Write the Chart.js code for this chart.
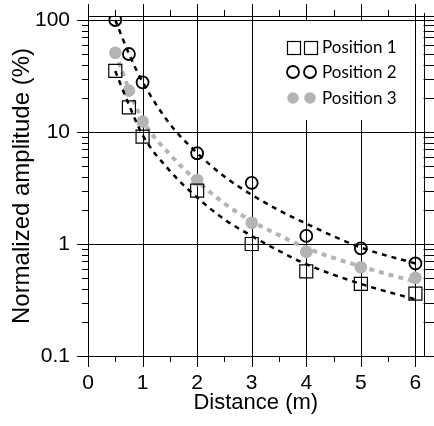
<!DOCTYPE html>
<html>
<head>
<meta charset="utf-8">
<script src="https://cdn.jsdelivr.net/npm/chart.js@4/dist/chart.umd.min.js"></script>
<style>
html,body{margin:0;padding:0;background:#fff;}
#wrap{width:434px;height:426px;position:relative;}
</style>
</head>
<body>
<div id="wrap"><canvas id="c"></canvas></div>
<script>
// ---- data ----
const distances = [0.5, 0.75, 1, 2, 3, 4, 5, 6];
const position1 = [35.2, 16.6, 9.1, 3.0, 1.0, 0.57, 0.44, 0.36];
const position2 = [100, 49.7, 27.8, 6.46, 3.52, 1.18, 0.915, 0.67];
const position3 = [51, 23.4, 12.4, 3.73, 1.55, 0.85, 0.62, 0.50];

const fitX = [0.5, 0.75, 1, 1.5, 2, 2.5, 3, 3.5, 4, 5, 6];
const fit1 = [35, 17.5, 9.4, 4.5, 2.6, 1.66, 1.18, 0.87, 0.66, 0.44, 0.32];
const fit2 = [100, 50, 28, 11.8, 6.5, 4.0, 2.75, 2.0, 1.52, 0.93, 0.67];
const fit3 = [51, 24, 12.8, 6.3, 3.65, 2.3, 1.6, 1.2, 0.92, 0.63, 0.46];

const seriesNames = ['Position 1', 'Position 2', 'Position 3'];
const xTicks = [0, 1, 2, 3, 4, 5, 6];
const xMinorTicks = [0.5, 1.5, 2.5, 3.5, 4.5, 5.5];
const yTicks = [0.1, 1, 10, 100];
const yTickLabels = ['0.1', '1', '10', '100'];
const yMinorTicks = [0.2,0.3,0.4,0.5,0.6,0.7,0.8,0.9,2,3,4,5,6,7,8,9,20,30,40,50,60,70,80,90];

const pts = (xs, ys) => xs.map((x, i) => ({x: x, y: ys[i]}));
const GRAY = '#b4b4b4';

const framePlugin = {
  id: 'frame',
  beforeDatasetsDraw(chart) {
    const {ctx, chartArea: ca, scales} = chart;
    const x = scales.x, y = scales.y;
    const W = chart.width;
    const r = v => Math.round(v) + 0.5;
    ctx.save();
    ctx.strokeStyle = '#000';
    ctx.lineWidth = 1;
    ctx.beginPath();
    xTicks.forEach(v => {
      const px = r(x.getPixelForValue(v));
      ctx.moveTo(px, ca.top - 12); ctx.lineTo(px, ca.bottom + 11);
    });
    const rx = r(ca.right);
    ctx.moveTo(rx, ca.top - 3); ctx.lineTo(rx, ca.bottom);
    const ty = r(ca.top);
    ctx.moveTo(ca.left, ty); ctx.lineTo(W, ty);
    yTicks.forEach(v => {
      const py = r(y.getPixelForValue(v));
      ctx.moveTo(ca.left - 11, py); ctx.lineTo(W, py);
    });
    xMinorTicks.forEach(v => {
      const px = r(x.getPixelForValue(v));
      ctx.moveTo(px, ca.bottom); ctx.lineTo(px, ca.bottom + 6);
      ctx.moveTo(px, ca.top); ctx.lineTo(px, ca.top - 6);
    });
    yMinorTicks.forEach(v => {
      const py = r(y.getPixelForValue(v));
      ctx.moveTo(ca.left - 6, py); ctx.lineTo(ca.left, py);
      ctx.moveTo(ca.right, py); ctx.lineTo(W, py);
    });
    ctx.stroke();

    // legend
    ctx.fillStyle = '#fff';
    ctx.fillRect(262, 21, 149, 99);
    const rows = [47, 72, 98];
    const mx = [293, 310];
    ctx.lineWidth = 1.2;
    ctx.strokeStyle = '#000';
    mx.forEach(cx => { ctx.strokeRect(Math.round(cx - 6.5) + 0.5, Math.round(rows[0] - 6.5) + 0.5, 13, 13); });
    ctx.lineWidth = 1.8;
    mx.forEach(cx => { ctx.beginPath(); ctx.arc(cx, rows[1], 6, 0, Math.PI * 2); ctx.stroke(); });
    ctx.fillStyle = GRAY;
    mx.forEach(cx => { ctx.beginPath(); ctx.arc(cx, rows[2], 5.8, 0, Math.PI * 2); ctx.fill(); });
    ctx.fillStyle = '#000';
    ctx.font = '17px Lato';
    ctx.textBaseline = 'middle';
    ctx.textAlign = 'left';
    seriesNames.forEach((t, i) => ctx.fillText(t, 322, rows[i] + 1));
    ctx.restore();
  }
};

const dashLine = (data, color, width, dash) => ({
  type: 'line', data: data, showLine: true, pointRadius: 0, pointHoverRadius: 0,
  borderColor: color, borderWidth: width, borderDash: dash, fill: false,
  cubicInterpolationMode: 'monotone'
});

new Chart(document.getElementById('c'), {
  type: 'scatter',
  data: {
    datasets: [
      {label: seriesNames[0], data: pts(distances, position1), pointStyle: 'rect', pointRadius: 9.2,
       borderColor: '#000', borderWidth: 1.2, backgroundColor: 'rgba(0,0,0,0)'},
      {label: seriesNames[1], data: pts(distances, position2), pointStyle: 'circle', pointRadius: 6,
       borderColor: '#000', borderWidth: 1.8, backgroundColor: 'rgba(0,0,0,0)'},
      dashLine(pts(fitX, fit1), '#000', 2.5, [5, 5]),
      dashLine(pts(fitX, fit2), '#000', 2.5, [5, 5]),
      dashLine(pts(fitX, fit3), GRAY, 4, [5, 5]),
      {label: seriesNames[2], data: pts(distances, position3), pointStyle: 'circle', pointRadius: 6.3,
       borderWidth: 0, borderColor: GRAY, backgroundColor: GRAY}
    ]
  },
  options: {
    responsive: true, maintainAspectRatio: false, animation: false, devicePixelRatio: 1,
    layout: {padding: {top: 16, right: 7, left: 0, bottom: 0}},
    plugins: {legend: {display: false}, tooltip: {enabled: false}},
    scales: {
      x: {
        type: 'linear', min: 0, max: 6.15,
        afterBuildTicks: s => { s.ticks = xTicks.map(v => ({value: v})); },
        afterFit: s => { s.height = 70; s.paddingLeft = 0; s.paddingRight = 0; },
        grid: {display: false, drawTicks: false, tickLength: 0},
        border: {display: false},
        ticks: {autoSkip: false, maxRotation: 0, padding: 15, color: '#000',
                font: {family: 'Liberation Sans', size: 21}, callback: v => String(v)},
        title: {display: true, text: 'Distance (m)', color: '#000',
                font: {family: 'Liberation Sans', size: 22}, padding: {top: 0, bottom: 10}}
      },
      y: {
        type: 'logarithmic', min: 0.1, max: 108.6,
        afterBuildTicks: s => { s.ticks = yTicks.map(v => ({value: v})); },
        afterFit: s => { s.width = 88; s.paddingTop = 0; s.paddingBottom = 0; },
        grid: {display: false, drawTicks: false, tickLength: 0},
        border: {display: false},
        ticks: {autoSkip: false, padding: 18, color: '#000',
                font: {family: 'Liberation Sans', size: 21},
                callback: (v) => { const i = yTicks.indexOf(v); return i >= 0 ? yTickLabels[i] : ''; }},
        title: {display: true, text: 'Normalized amplitude (%)', color: '#000',
                font: {family: 'Liberation Sans', size: 24}, padding: {top: 8, bottom: 0}}
      }
    }
  },
  plugins: [framePlugin]
});
</script>
</body>
</html>
